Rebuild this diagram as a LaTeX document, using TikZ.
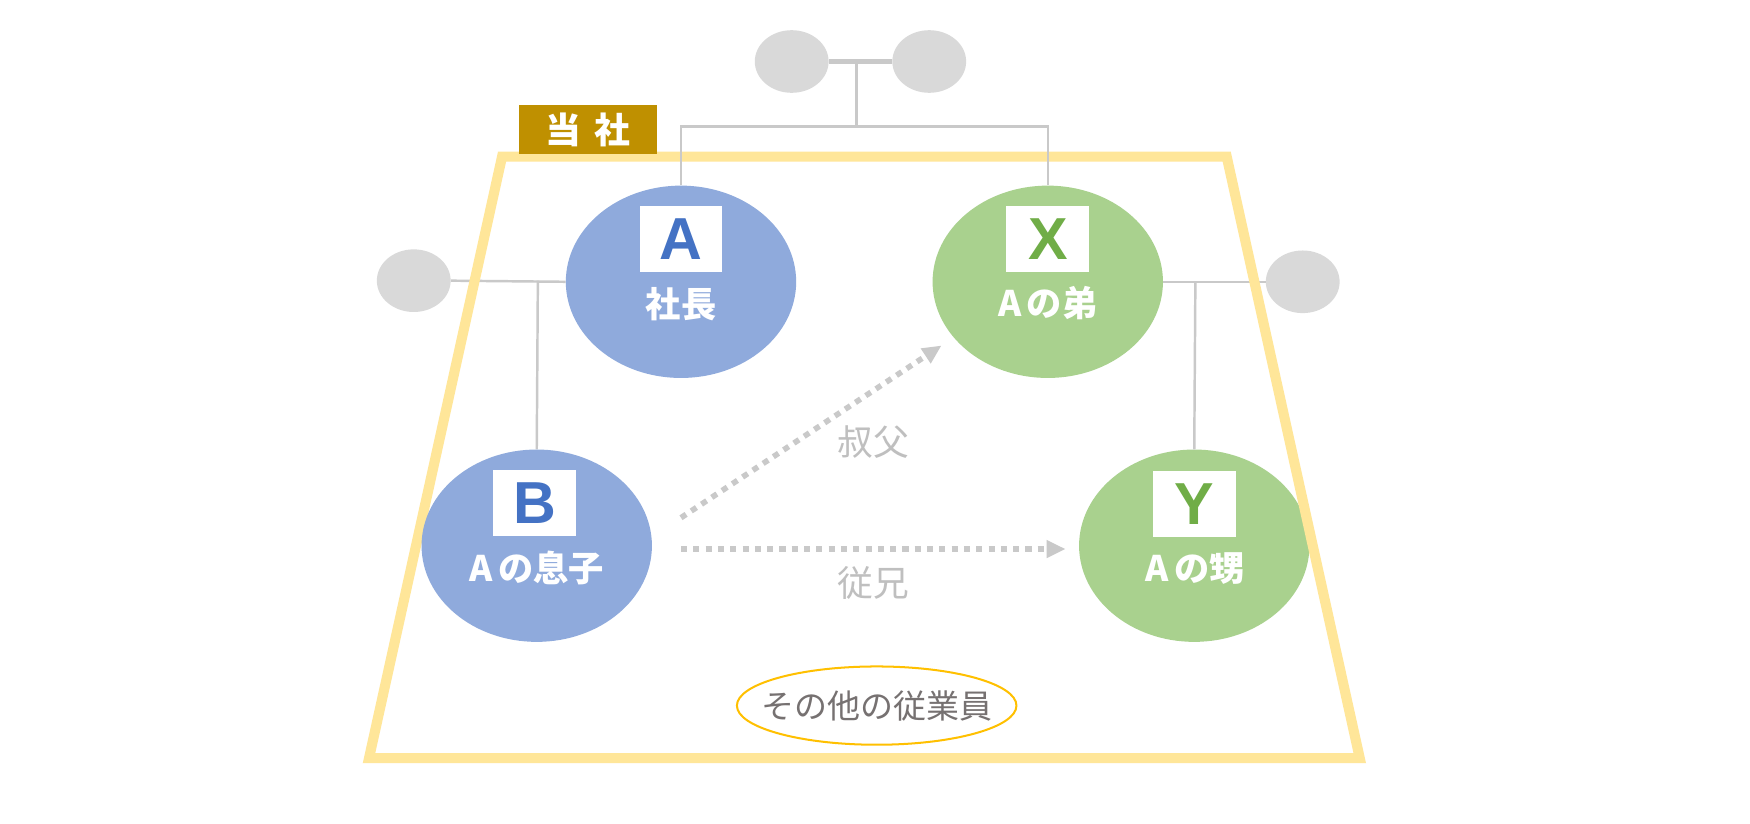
\documentclass[tikz,border=0pt]{standalone}
\usepackage{fontspec}
\setmainfont{Noto Sans CJK JP}
\newfontfamily\jp{Noto Sans CJK JP}
\newfontfamily\lat{Liberation Sans}
\usetikzlibrary{shapes.geometric,arrows.meta}
\definecolor{cgray}{HTML}{D9D9D9}
\definecolor{cline}{HTML}{C9C9C9}
\definecolor{cgold}{HTML}{BF9000}
\definecolor{ctrap}{HTML}{FFE699}
\definecolor{cblue}{HTML}{8FAADC}
\definecolor{cblueL}{HTML}{4472C4}
\definecolor{cgreen}{HTML}{A9D18E}
\definecolor{cgreenL}{HTML}{70AD47}
\definecolor{carrow}{HTML}{C9C9C9}
\definecolor{clabel}{HTML}{BFBFBF}
\definecolor{corange}{HTML}{FFC000}
\definecolor{ctext}{HTML}{767171}
\tikzset{
  graynode/.style={ellipse,fill=cgray,minimum width=66pt,minimum height=56pt,inner sep=0pt},
  person/.style={ellipse,minimum width=206pt,minimum height=172pt,inner sep=0pt},
  letterbox/.style={fill=white,minimum width=74pt,minimum height=59pt,inner sep=0pt,font=\lat\bfseries\fontsize{53}{53}\selectfont},
  role/.style={text=white,font=\jp\bfseries\fontsize{31.5}{31.5}\selectfont,inner sep=0pt},
  conn/.style={draw=cline,line width=2.2pt},
  relarrow/.style={draw=carrow,line width=5pt,dash pattern=on 5.5pt off 5.5pt,-{Triangle[length=17pt,width=15pt]}},
  rellabel/.style={text=clabel,font=\jp\fontsize{32}{32}\selectfont,inner sep=0pt}
}
\begin{document}
\begin{tikzpicture}[x=1pt,y=-1pt]
\useasboundingbox[fill=white] (0,0) rectangle (1565,736);
% gray relatives
\node[graynode] (tl) at (708,55) {};
\node[graynode] (tr) at (831,55) {};
\node[graynode] (gl) at (370,251) {};
\node[graynode] (gr) at (1165,252) {};
% person ellipses (positions)
\node[person] (A) at (609,252) {};
\node[person] (X) at (937,252) {};
\node[person] (B) at (480,488) {};
\node[person,fill=cgreen] (Y) at (1068,488) {};
% side lines (under trapezoid)
\draw[conn] (gl.east) -- (A.west);
\coordinate (j1) at (481,251);
\draw[conn] (j1) -- (B.north);
\draw[conn] (X.east) -- (gr.west);
\coordinate (j2) at (1069,252);
\draw[conn] (j2) -- (Y.north);
% trapezoid
\draw[draw=ctrap,line width=9pt,line join=miter] (449,140) -- (1097,140) -- (1216,678) -- (330,678) -- cycle;
% top lines
\draw[conn,line width=4pt] (tl.east) -- (tr.west);
\coordinate (j0) at (766,55);
\coordinate (j0b) at (766,113);
\draw[conn] (j0) -- (j0b);
\draw[conn] (A.north) |- (j0b) -| (X.north);
% fills
\fill[cblue] (A.center) ellipse[x radius=103pt,y radius=86pt];
\fill[cgreen] (X.center) ellipse[x radius=103pt,y radius=86pt];
\fill[cblue] (B.center) ellipse[x radius=103pt,y radius=86pt];
% label box
\node[fill=cgold,minimum width=123pt,minimum height=44pt,inner sep=0pt,text=white,font=\jp\bfseries\fontsize{32}{32}\selectfont] (tosha) at (526,116) {当\hspace{12pt}社};
% letters
\node[letterbox,text=cblueL] (Aa) at (609,214) {A};
\node[letterbox,text=cgreenL] (Xa) at (937,214) {X};
\node[letterbox,text=cblueL] (Ba) at (478,450) {B};
\node[letterbox,text=cgreenL] (Ya) at (1068,451) {Y};
\node[role] (Ar) at (609,272) {社長};
\node[role] (Xr) at (937,271) {A\hspace{5pt}の弟};
\node[role] (Br) at (480,508) {A\hspace{5pt}の息子};
\node[role] (Yr) at (1069,508) {A\hspace{5pt}の甥};
% relation arrows
\coordinate (s1) at (609,463);
\coordinate (e1) at (842,309);
\coordinate (s2) at (609,491);
\coordinate (e2) at (953,491);
\draw[relarrow] (s1) -- (e1);
\draw[relarrow] (s2) -- (e2);
\node[rellabel] (l1) at (781,395) {叔父};
\node[rellabel] (l2) at (781,521) {従兄};
% others
\node[inner sep=0pt,text=ctext,font=\jp\fontsize{29.5}{29.5}\selectfont] (oth) at (784,631) {その他の従業員};
\draw[draw=corange,line width=1.8pt] (oth.center) ellipse[x radius=125pt,y radius=35pt];
\end{tikzpicture}
\end{document}
